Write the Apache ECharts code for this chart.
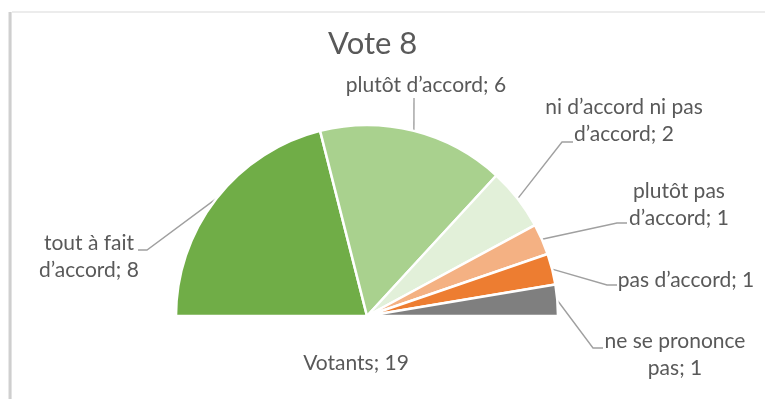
<!DOCTYPE html>
<html>
<head>
<meta charset="utf-8">
<script src="https://cdn.jsdelivr.net/npm/echarts@6/dist/echarts.min.js"></script>
<style>
  html, body { margin: 0; padding: 0; background: #ffffff; }
  #chart { width: 765px; height: 399px; }
</style>
</head>
<body>
<div id="chart"></div>
<script>
// ---- data ----
const categories = [
  'tout à fait\nd\u2019accord',
  'plutôt d\u2019accord',
  'ni d\u2019accord ni pas\nd\u2019accord',
  'plutôt pas\nd\u2019accord',
  'pas d\u2019accord',
  'ne se prononce\npas'
];
const values = [8, 6, 2, 1, 1, 1];
const totalLabel = 'Votants';
const totalValue = 19;
const colors = ['#70AD47', '#A9D18E', '#E2F0D9', '#F4B183', '#ED7D31', '#7F7F7F'];

// ---- label placement (layout only) ----
// [labelCenterX, labelCenterY, elbowX, elbowY, endX, endY]
const labelPlace = [
  [89, 257, 147, 250, 138, 250],
  [426, 85, 414, 98, 414, 98],
  [624, 121, 562, 142, 573, 142],
  [679, 205, 617, 223, 627, 223],
  [686, 280, 607, 285, 617, 285],
  [675, 355, 593, 348, 603, 348],
  [356, 363, 0, 0, 0, 0]
];

const textColor = '#595959';
const fontFam = 'Lato, "Open Sans", sans-serif';

const seriesData = categories.map((c, i) => ({
  name: c,
  value: values[i],
  itemStyle: { color: colors[i] }
}));
seriesData.push({
  name: totalLabel,
  value: totalValue,
  itemStyle: { color: 'rgba(0,0,0,0)', borderWidth: 0 },
  labelLine: { show: false },
  emphasis: { disabled: true }
});

const chart = echarts.init(document.getElementById('chart'), null, { renderer: 'canvas' });
chart.setOption({
  animation: false,
  backgroundColor: '#ffffff',
  title: {
    text: 'Vote 8',
    left: 323,
    top: 23,
    textStyle: { color: textColor, fontFamily: fontFam, fontSize: 31, fontWeight: 'normal' }
  },
  graphic: [
    { type: 'rect', shape: { x: 8, y: 12, width: 4, height: 400 },
      style: { fill: new echarts.graphic.LinearGradient(0, 0, 1, 0, [
        { offset: 0, color: '#f4f4f4' }, { offset: 0.5, color: '#c4c4c4' }, { offset: 1, color: '#ececec' }]) },
      silent: true },
    { type: 'rect', shape: { x: 12, y: 11, width: 760, height: 2 },
      style: { fill: '#ececec' }, silent: true }
  ],
  series: [{
    type: 'pie',
    center: [367, 316],
    radius: 191,
    startAngle: 180,
    clockwise: true,
    avoidLabelOverlap: false,
    silent: true,
    itemStyle: { borderColor: '#ffffff', borderWidth: 2.5 },
    label: {
      show: true,
      position: 'outside',
      formatter: p => p.name + '; ' + p.value,
      color: textColor,
      fontFamily: fontFam,
      fontSize: 21,
      lineHeight: 27,
      align: 'center'
    },
    labelLine: {
      show: true,
      lineStyle: { color: '#a0a0a0', width: 1.4 }
    },
    labelLayout: function (params) {
      const lp = labelPlace[params.dataIndex];
      const out = { x: lp[0], y: lp[1], align: 'center', verticalAlign: 'middle' };
      if (params.labelLinePoints && params.dataIndex < values.length) {
        const a = params.labelLinePoints[0];
        out.labelLinePoints = [[a[0], a[1]], [lp[2], lp[3]], [lp[4], lp[5]]];
      }
      return out;
    },
    data: seriesData
  }]
});
</script>
</body>
</html>
